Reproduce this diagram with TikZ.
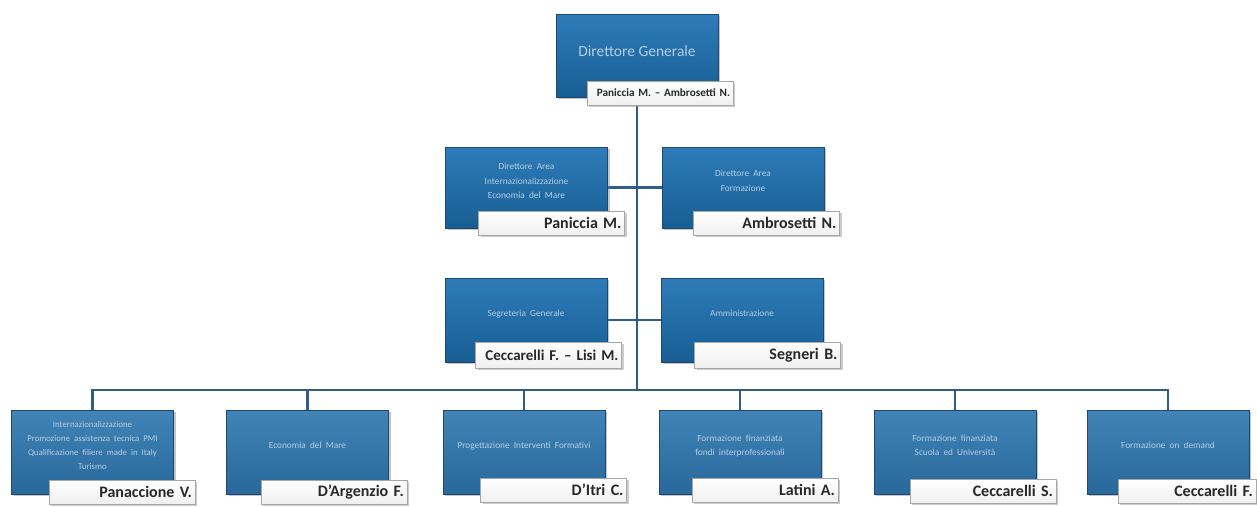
\documentclass[tikz,border=0pt]{standalone}
\usepackage{fontspec}
\setmainfont{Carlito}
\usetikzlibrary{shadows,backgrounds}
\definecolor{boxtop}{RGB}{46,124,184}
\definecolor{boxbot}{RGB}{24,94,148}
\definecolor{lowtop}{RGB}{66,132,182}
\definecolor{lowbot}{RGB}{40,104,154}
\definecolor{boxedge}{RGB}{30,70,110}
\definecolor{boxtext}{RGB}{180,206,230}
\definecolor{linecol}{RGB}{48,92,136}
\definecolor{namecol}{RGB}{40,40,40}
\begin{document}
\begin{tikzpicture}[x=1pt,y=-1pt,
  unit/.style={draw=boxedge, line width=0.6pt, top color=boxtop, bottom color=boxbot,
    minimum width=162pt, minimum height=83pt, inner sep=0pt, align=center,
    text=boxtext, text depth=13pt, font=\fontsize{9.3}{14.5}\selectfont,
    drop shadow={shadow xshift=2pt, shadow yshift=-2pt, opacity=0.45}},
  lowunit/.style={unit, top color=lowtop, bottom color=lowbot, minimum height=84pt},
  namebox/.style={draw=gray!70, line width=0.8pt, top color=white, bottom color=gray!12,
    minimum height=24pt, inner xsep=3pt, inner ysep=0pt, text width=140pt, align=right,
    font=\fontsize{16}{16}\selectfont\bfseries, text=namecol,
    drop shadow={shadow xshift=2pt, shadow yshift=-2pt, opacity=0.4}},
  link/.style={draw=linecol, line width=2.6pt}]
\useasboundingbox (0,0) rectangle (1257,506);
% top
\node[unit, font=\fontsize{15.5}{16}\selectfont, text depth=8pt] (top) at (637,55.5) {Direttore Generale};
\node[namebox, font=\fontsize{11.2}{12}\selectfont\bfseries] (topl) at (660,93) {Paniccia M. -- Ambrosetti N.};
% row 2
\node[unit, minimum height=81pt] (b21) at (526.5,187.5) {Direttore~ Area\\Internazionalizzazione\\Economia~ del~ Mare};
\node[namebox] (b21l) at (551.5,223) {Paniccia M.};
\node[unit, minimum height=81pt] (b22) at (743,187.5) {Direttore~ Area\\Formazione};
\node[namebox] (b22l) at (766.5,223) {Ambrosetti N.};
% row 3
\node[unit, minimum height=84pt] (b31) at (526,320) {Segreteria~ Generale};
\node[namebox, minimum height=26pt, font=\fontsize{15}{16}\selectfont\bfseries] (b31l) at (548.5,355) {Ceccarelli~F.~--~Lisi~M.};
\node[unit, minimum height=84pt] (b32) at (742,320) {Amministrazione};
\node[namebox, minimum height=26pt] (b32l) at (767.5,355) {Segneri B.};
% bottom row
\node[lowunit, font=\fontsize{8.8}{14}\selectfont] (c1) at (92.5,452) {Internazionalizzazione\\Promozione~ assistenza~ tecnica~ PMI\\Qualificazione~ filiere~ made~ in~ Italy\\Turismo};
\node[namebox] (c1l) at (122,492) {Panaccione V.};
\node[lowunit] (c2) at (307.5,452) {Economia~ del~ Mare};
\node[namebox] (c2l) at (334,492) {D'Argenzio F.};
\node[lowunit] (c3) at (524,452) {Progettazione~ Interventi~ Formativi};
\node[namebox] (c3l) at (553.5,490) {D'Itri C.};
\node[lowunit] (c4) at (740,452) {Formazione~ finanziata\\fondi~ interprofessionali};
\node[namebox] (c4l) at (765,490) {Latini A.};
\node[lowunit] (c5) at (955,452) {Formazione~ finanziata\\Scuola~ ed~ Università};
\node[namebox] (c5l) at (983,491) {Ceccarelli S.};
\node[lowunit] (c6) at (1168,452) {Formazione~ on~ demand};
\node[namebox, text width=132pt] (c6l) at (1187,491) {Ceccarelli F.};
\coordinate (bus) at (637,390);
\begin{scope}[on background layer]
  \draw[link] (top.south) -- (bus);
  \draw[link] (b21.east) -- (b22.west);
  \draw[link] (b31.east) -- (b32.west);
  \draw[link] (c1.north) |- (bus) -| (c6.north);
  \foreach \n in {c2,c3,c4,c5} \draw[link] (\n.north) -- (\n.north |- bus);
\end{scope}
\end{tikzpicture}
\end{document}
